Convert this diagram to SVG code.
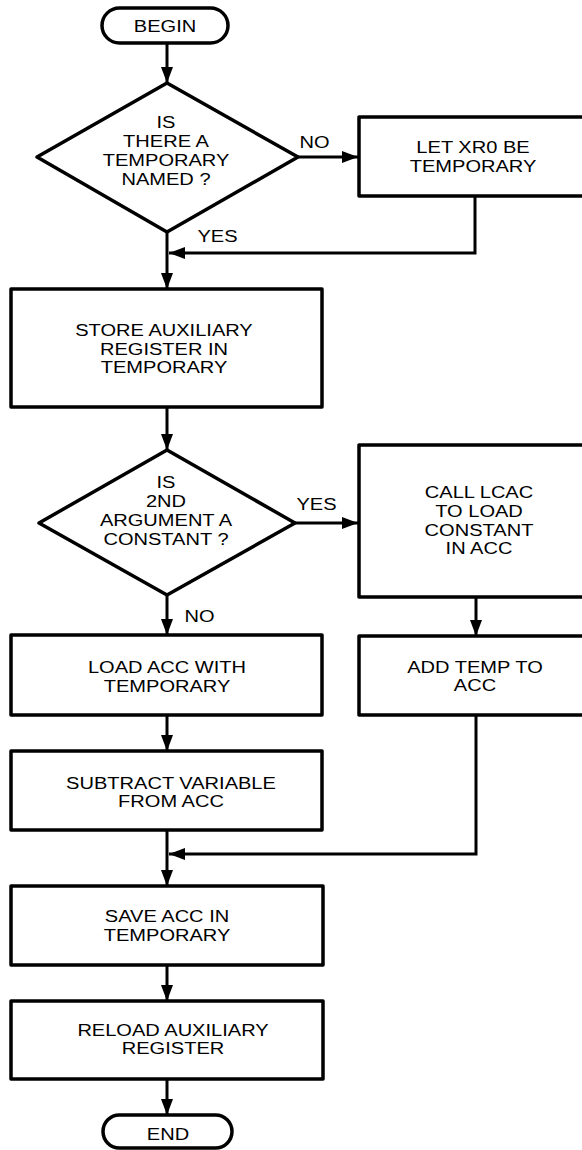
<svg xmlns="http://www.w3.org/2000/svg" width="582" height="1150" viewBox="0 0 582 1150">
<style>
.shape{fill:#fff;stroke:#000;stroke-width:3.5;stroke-linejoin:round}
.conn{fill:none;stroke:#000;stroke-width:3}
.t{font-family:"Liberation Sans",Arial,Helvetica,sans-serif;font-size:17px;fill:#000;text-anchor:middle}
</style>
<defs>
<marker id="ah" markerUnits="userSpaceOnUse" markerWidth="16" markerHeight="12" refX="16" refY="6" orient="auto">
<path d="M0,0 L16,6 L0,12 z" fill="#000"/>
</marker>
</defs>
<rect width="582" height="1150" fill="#fff"/>
<g id="connectors">
<line class="conn" x1="167" y1="43" x2="167" y2="83" marker-end="url(#ah)"/>
<line class="conn" x1="298" y1="157" x2="358" y2="157" marker-end="url(#ah)"/>
<polyline class="conn" points="475,196 475,253 169,253" marker-end="url(#ah)"/>
<line class="conn" x1="167" y1="232" x2="167" y2="289" marker-end="url(#ah)"/>
<line class="conn" x1="167" y1="407" x2="167" y2="450" marker-end="url(#ah)"/>
<line class="conn" x1="295" y1="523" x2="358" y2="523" marker-end="url(#ah)"/>
<line class="conn" x1="167" y1="595" x2="167" y2="635" marker-end="url(#ah)"/>
<line class="conn" x1="476" y1="597" x2="476" y2="636" marker-end="url(#ah)"/>
<line class="conn" x1="167" y1="715" x2="167" y2="751" marker-end="url(#ah)"/>
<polyline class="conn" points="476,715 476,854 169,854" marker-end="url(#ah)"/>
<line class="conn" x1="167" y1="830" x2="167" y2="886" marker-end="url(#ah)"/>
<line class="conn" x1="167" y1="965" x2="167" y2="1001" marker-end="url(#ah)"/>
<line class="conn" x1="167" y1="1079" x2="167" y2="1115" marker-end="url(#ah)"/>
<text class="t" transform="translate(314.5,0) scale(1.18,1)" x="0" y="148">NO</text>
<text class="t" transform="translate(217.5,0) scale(1.18,1)" x="0" y="242">YES</text>
<text class="t" transform="translate(316.5,0) scale(1.18,1)" x="0" y="510">YES</text>
<text class="t" transform="translate(199.5,0) scale(1.18,1)" x="0" y="622">NO</text>
</g>
<g id="begin">
<rect class="shape" x="102" y="8" width="126" height="35" rx="17.5"/>
<text class="t" transform="translate(165,0) scale(1.18,1)" x="0" y="32">BEGIN</text>
</g>
<g id="d1">
<polygon class="shape" points="167,83 298,157 167,232 37,157"/>
<text class="t" transform="translate(166,0) scale(1.18,1)"><tspan x="0" y="128">IS</tspan><tspan x="0" y="147">THERE A</tspan><tspan x="0" y="166">TEMPORARY</tspan><tspan x="0" y="185">NAMED ?</tspan></text>
</g>
<g id="letxr0">
<rect class="shape" x="359" y="117" width="240" height="79"/>
<text class="t" transform="translate(473,0) scale(1.18,1)"><tspan x="0" y="153">LET XR0 BE</tspan><tspan x="0" y="172">TEMPORARY</tspan></text>
</g>
<g id="store">
<rect class="shape" x="11" y="289" width="311" height="118"/>
<text class="t" transform="translate(164,0) scale(1.18,1)"><tspan x="0" y="336">STORE AUXILIARY</tspan><tspan x="0" y="355">REGISTER IN</tspan><tspan x="0" y="373">TEMPORARY</tspan></text>
</g>
<g id="d2">
<polygon class="shape" points="167,450 295,523 167,595 39,523"/>
<text class="t" transform="translate(166,0) scale(1.18,1)"><tspan x="0" y="488">IS</tspan><tspan x="0" y="507">2ND</tspan><tspan x="0" y="526">ARGUMENT A</tspan><tspan x="0" y="545">CONSTANT ?</tspan></text>
</g>
<g id="calllcac">
<rect class="shape" x="359" y="445" width="240" height="152"/>
<text class="t" transform="translate(479,0) scale(1.18,1)"><tspan x="0" y="498">CALL LCAC</tspan><tspan x="0" y="517">TO LOAD</tspan><tspan x="0" y="536">CONSTANT</tspan><tspan x="0" y="554">IN ACC</tspan></text>
</g>
<g id="loadacc">
<rect class="shape" x="11" y="635" width="311" height="80"/>
<text class="t" transform="translate(167,0) scale(1.18,1)"><tspan x="0" y="673">LOAD ACC WITH</tspan><tspan x="0" y="692">TEMPORARY</tspan></text>
</g>
<g id="addtemp">
<rect class="shape" x="359" y="636" width="240" height="79"/>
<text class="t" transform="translate(475,0) scale(1.18,1)"><tspan x="0" y="673">ADD TEMP TO</tspan><tspan x="0" y="691">ACC</tspan></text>
</g>
<g id="subtract">
<rect class="shape" x="11" y="751" width="311" height="79"/>
<text class="t" transform="translate(171,0) scale(1.18,1)"><tspan x="0" y="789">SUBTRACT VARIABLE</tspan><tspan x="0" y="807">FROM ACC</tspan></text>
</g>
<g id="saveacc">
<rect class="shape" x="11" y="886" width="312" height="79"/>
<text class="t" transform="translate(167,0) scale(1.18,1)"><tspan x="0" y="922">SAVE ACC IN</tspan><tspan x="0" y="941">TEMPORARY</tspan></text>
</g>
<g id="reload">
<rect class="shape" x="11" y="1001" width="312" height="78"/>
<text class="t" transform="translate(173,0) scale(1.18,1)"><tspan x="0" y="1036">RELOAD AUXILIARY</tspan><tspan x="0" y="1054">REGISTER</tspan></text>
</g>
<g id="end">
<rect class="shape" x="103" y="1115" width="129" height="33" rx="16.5"/>
<text class="t" transform="translate(168,0) scale(1.18,1)" x="0" y="1140">END</text>
</g>
</svg>
